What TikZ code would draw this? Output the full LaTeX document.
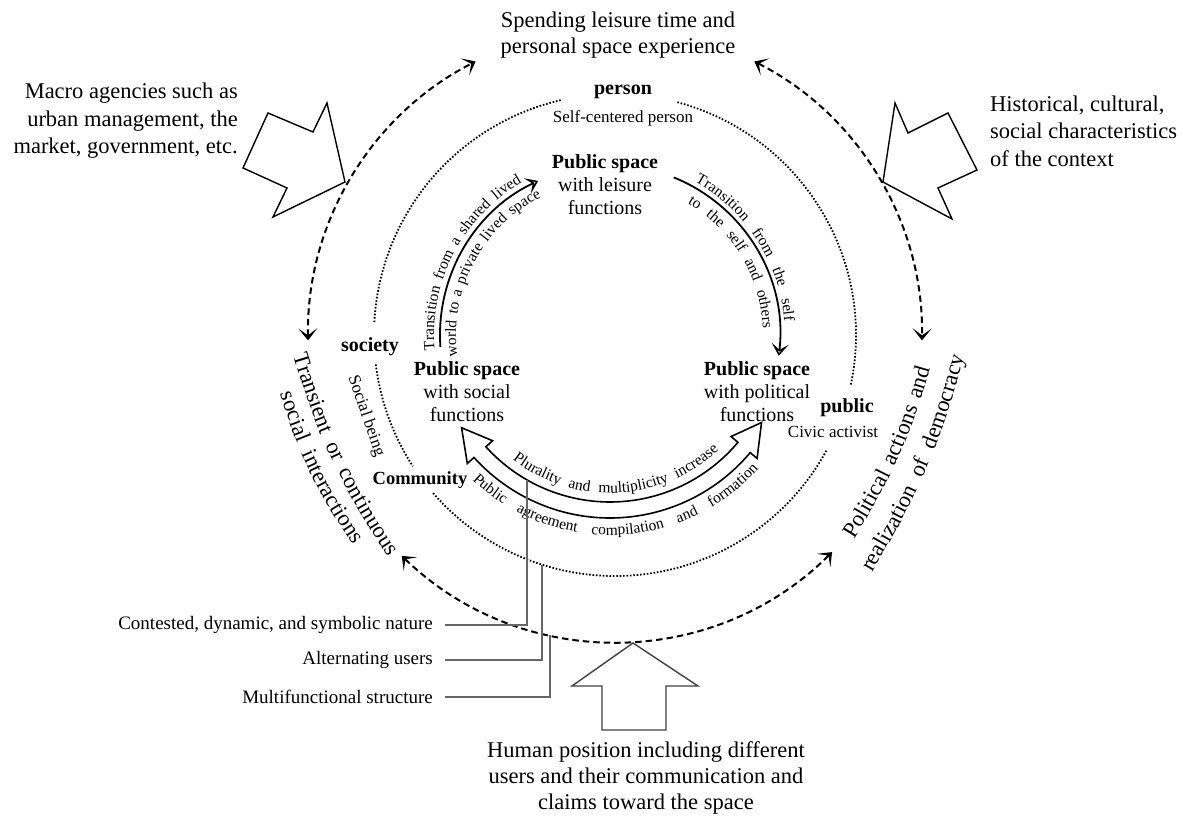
\documentclass[tikz,border=0pt]{standalone}
\usepackage{fontspec}
\setmainfont{Liberation Serif}
\usetikzlibrary{arrows.meta,positioning,decorations.text}

\begin{document}
\begin{tikzpicture}[x=1pt,y=1pt,
    big/.style={font=\fontsize{22.5}{26}\selectfont, align=center, inner sep=0pt},
    ps/.style={font=\fontsize{20}{23}\selectfont, align=center, inner sep=0pt},
    ring/.style={font=\fontsize{20}{22}\selectfont\bfseries, inner sep=0pt},
    sub/.style={font=\fontsize{17}{19}\selectfont, inner sep=0pt},
    lab/.style={font=\fontsize{19}{21}\selectfont, anchor=east, inner sep=0pt},
    outer/.style={line width=2pt, dash pattern=on 6.5pt off 4pt, <->, >={Stealth[length=12pt,width=19pt,inset=7pt]}},
    dots/.style={line width=1.8pt, dash pattern=on 1.6pt off 1.8pt},
    inarc/.style={line width=1.8pt, ->, >={Stealth[open,length=12pt,width=17pt,inset=6pt]}},
    band/.style={line width=1.6pt, line join=miter},
    block/.style={line width=1.4pt, line join=miter},
    lead/.style={line width=1.3pt, draw=black!60},
    arctext/.style={decorate, decoration={text along path, text align={fit to path stretching spaces}, text={|\fontsize{15.5}{16}\selectfont|#1}}},
    ringtext/.style={decorate, decoration={text along path, text align={fit to path stretching spaces}, text={|\fontsize{22.5}{24}\selectfont|#1}}}
  ]
    \useasboundingbox (-615,-483) rectangle (568,335);
    \coordinate (oc) at (0,0);
    \coordinate (cc) at (-5,0);

    \draw[outer] (181:307) arc[start angle=181, end angle=117, radius=307];
    \draw[outer] (63:307) arc[start angle=63, end angle=-1, radius=307];
    \draw[outer] (226:307) arc[start angle=226, end angle=315, radius=307];

    \draw[dots] (75:241) arc[start angle=75, end angle=-12, radius=241];
    \draw[dots] (103:241) arc[start angle=103, end angle=177, radius=241];
    \draw[dots] (187:241) arc[start angle=187, end angle=213, radius=241];
    \draw[dots] (221:241) arc[start angle=221, end angle=331.5, radius=241];

    \draw[inarc] ([shift={(184:170)}]cc) arc[start angle=184, end angle=115, radius=170];
    \draw[inarc] ([shift={(68:170)}]cc) arc[start angle=68, end angle=-7, radius=170];

    \draw[band] ([shift={(222:167)}]cc) arc[start angle=222, end angle=320, radius=167]
      -- ([shift={(320:158)}]cc) -- ([shift={(330:175)}]cc) -- ([shift={(320:192)}]cc)
      -- ([shift={(320:183)}]cc) arc[start angle=320, end angle=222, radius=183]
      -- ([shift={(222:192)}]cc) -- ([shift={(212:175)}]cc) -- ([shift={(222:158)}]cc) -- cycle;

    \path[arctext={Transition from a shared lived}] ([shift={(185:176)}]cc) arc[start angle=185, end angle=120, radius=176];
    \path[arctext={world to a private lived space}] ([shift={(188:154)}]cc) arc[start angle=188, end angle=116.5, radius=154];
    \path[arctext={Transition from the self}] ([shift={(61:175)}]cc) arc[start angle=61, end angle=4.5, radius=175];
    \path[arctext={to the self and others}] ([shift={(59.5:153)}]cc) arc[start angle=59.5, end angle=2.5, radius=153];
    \path[arctext={Plurality and multiplicity increase}] ([shift={(232:158)}]cc) arc[start angle=232, end angle=313.5, radius=158];
    \path[arctext={Public agreement compilation and formation}] ([shift={(226.5:200)}]cc) arc[start angle=226.5, end angle=318, radius=200];

    \path[ringtext={Transient or continuous}] (-322,-20) to[bend right=8] (-227,-222);
    \path[ringtext={social interactions}] (-335,-59) to[bend right=8] (-262,-210);
    \path[ringtext={Political actions and}] (239,-204.5) to[bend right=8] (315,-33.5);
    \path[ringtext={realization of democracy}] (257,-237.5) to[bend right=8] (349,-21.5);

    \draw[block] (-270,153) -- (-288,232) -- (-302,203) -- (-347,222) -- (-372,167) -- (-328,147) -- (-342,118) -- cycle;
    \draw[block] (268,153) -- (280,232) -- (293,202) -- (333,222) -- (362,165) -- (323,147) -- (337,116) -- cycle;
    \draw[block, draw=black!75] (18,-308) -- (83,-351) -- (51,-351) -- (51,-395) -- (-13,-395) -- (-13,-351) -- (-43,-351) -- cycle;

    \node[big] (spend) at (3,300) {Spending leisure time and\\personal space experience};
    \node[big, anchor=east, align=right, font=\fontsize{22.5}{27.5}\selectfont] (macro) at (-377,214) {Macro agencies such as\\urban management, the\\market, government, etc.};
    \node[big, anchor=west, align=left, font=\fontsize{22.5}{27.5}\selectfont] (hist) at (375,204) {Historical, cultural,\\social characteristics\\of the context};
    \node[big] (human) at (31,-443) {Human position including different\\users and their communication and\\claims toward the space};

    \node[ring] (person) at (8,243) {person};
    \node[sub, below=11pt of person] (selfc) {Self-centered person};
    \node[ring] (society) at (-245,-12) {society};
    \node[sub, rotate=-71] (socbeing) at (-249,-81) {Social being};
    \node[ring, font=\fontsize{18.5}{20}\selectfont\bfseries] (community) at (-195,-145) {Community};
    \node[ring] (public) at (232,-73) {public};
    \node[sub] (civic) at (218,-97) {Civic activist};

    \node[ps] (leis) at (-10,150) {\textbf{Public space}\\with leisure\\functions};
    \node[ps] (soc) at (-148,-57) {\textbf{Public space}\\with social\\functions};
    \node[ps] (pol) at (142,-57) {\textbf{Public space}\\with political\\functions};

    \node[lab] (contest) at (-182,-290) {Contested, dynamic, and symbolic nature};
    \node[lab] (altern) at (-182,-325) {Alternating users};
    \node[lab] (multi) at (-182,-362) {Multifunctional structure};
    \coordinate (hitband) at (-88,-145);
    \coordinate (hitdots) at (-73,-230);
    \coordinate (hitdash) at (-65,-300);
    \draw[lead] ([xshift=12pt]contest.east) -| (hitband);
    \draw[lead] ([xshift=12pt]altern.east) -| (hitdots);
    \draw[lead] ([xshift=12pt]multi.east) -| (hitdash);
  \end{tikzpicture}
\end{document}
